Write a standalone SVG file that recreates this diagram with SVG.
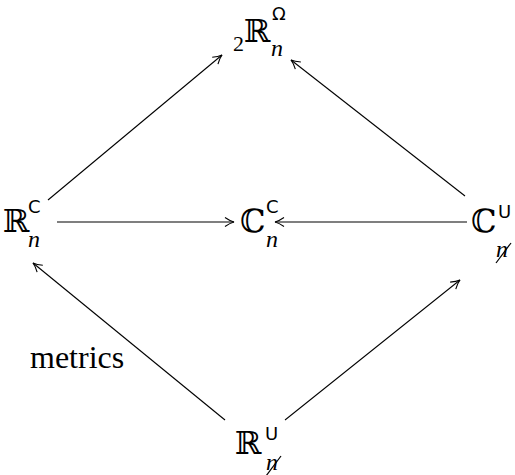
<svg xmlns="http://www.w3.org/2000/svg" width="515" height="475" viewBox="0 0 515 475">
<style>
.bb{font-family:"DejaVu Serif",serif;font-size:32px;fill:#000}
.sup{font-family:"DejaVu Sans",sans-serif;font-size:18px;fill:#000}
.sub{font-family:"Liberation Serif",serif;font-style:italic;font-size:24px;fill:#000}
.num{font-family:"Liberation Serif",serif;font-size:22px;fill:#000}
.lbl{font-family:"Liberation Serif",serif;font-size:32px;fill:#000}
.c{stroke:#000;stroke-width:1.1;fill:none}
.sl{stroke:#000;stroke-width:1.2;fill:none}
</style>
<defs>
<marker id="ah" viewBox="-10 -6 12 12" refX="0" refY="0" markerWidth="12" markerHeight="12" markerUnits="userSpaceOnUse" orient="auto">
<path d="M-9,-4.5 Q-4,-1 0,0 Q-4,1 -9,4.5" fill="none" stroke="#000" stroke-width="1.1"/>
</marker>
</defs>
<g id="connectors">
<line class="c" x1="48" y1="200" x2="222" y2="55" marker-end="url(#ah)"/>
<line class="c" x1="465" y1="196" x2="291" y2="60" marker-end="url(#ah)"/>
<line class="c" x1="57" y1="222" x2="234" y2="222" marker-end="url(#ah)"/>
<line class="c" x1="467" y1="222" x2="275" y2="222" marker-end="url(#ah)"/>
<line class="c" x1="225" y1="420" x2="33" y2="263" marker-end="url(#ah)"/>
<line class="c" x1="285" y1="420" x2="460" y2="280" marker-end="url(#ah)"/>
</g>
<g id="top">
<text class="num" x="233" y="51">2</text>
<text class="bb" x="244" y="42">ℝ</text>
<text class="sup" x="272" y="20">Ω</text>
<text class="sub" x="271" y="56">n</text>
</g>
<g id="left">
<text class="bb" x="3" y="232">ℝ</text>
<text class="sup" x="28" y="213">C</text>
<text class="sub" x="28" y="247">n</text>
</g>
<g id="center">
<text class="bb" x="240" y="232">ℂ</text>
<text class="sup" x="266" y="213">C</text>
<text class="sub" x="266" y="247">n</text>
</g>
<g id="right">
<text class="bb" x="471" y="232">ℂ</text>
<text class="sup" x="498" y="218">U</text>
<text class="sub" x="496" y="257">n</text>
<line class="sl" x1="496" y1="263" x2="511" y2="243"/>
</g>
<g id="bottom">
<text class="bb" x="235" y="454">ℝ</text>
<text class="sup" x="265" y="440">U</text>
<text class="sub" x="266" y="470">n</text>
<line class="sl" x1="266" y1="476" x2="281" y2="456"/>
</g>
<g id="label">
<text class="lbl" x="30" y="368">metrics</text>
</g>
</svg>
